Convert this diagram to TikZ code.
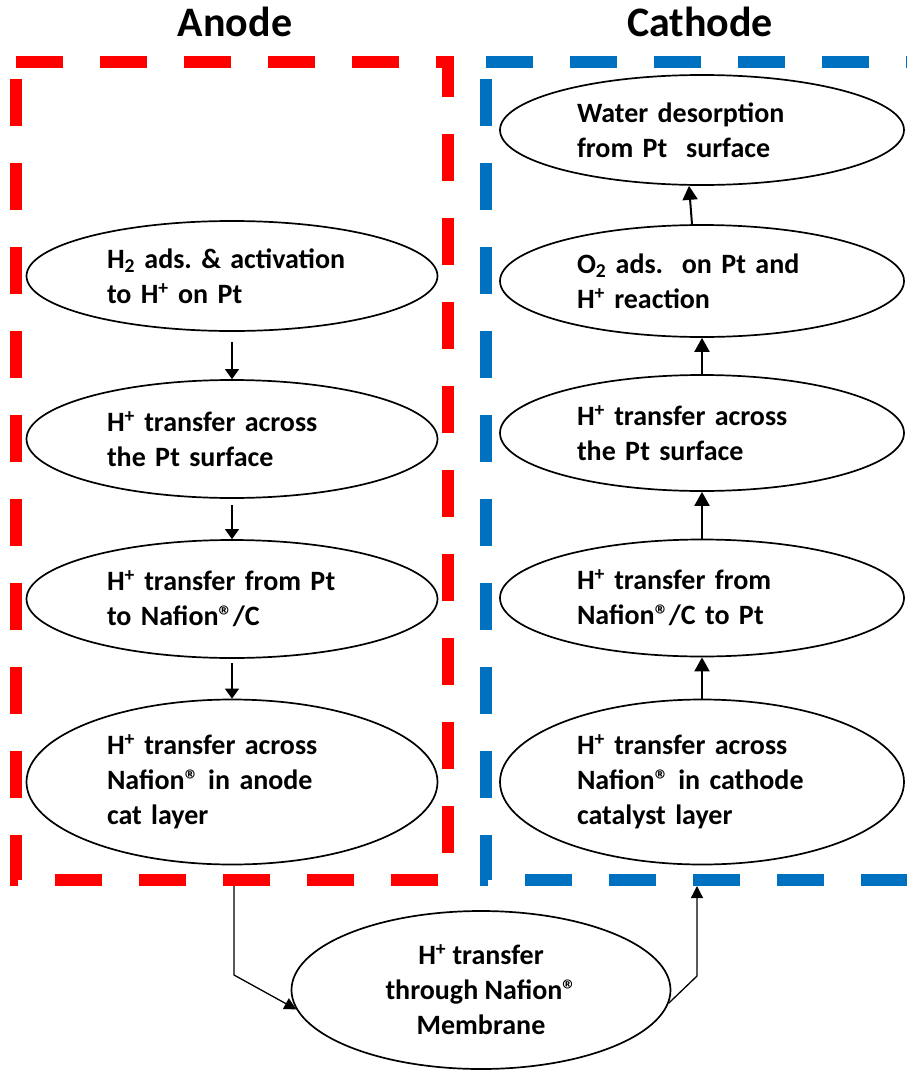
\documentclass[tikz,border=0pt]{standalone}
\usepackage{fontspec}
\setmainfont{Carlito}
\usetikzlibrary{shapes.geometric,arrows.meta}
\definecolor{anodered}{RGB}{255,0,0}
\definecolor{cathodeblue}{RGB}{0,112,192}
\frenchspacing

\begin{document}
\begin{tikzpicture}[x=1pt,y=-1pt,
  stepnode/.style={ellipse, draw, line width=1.7pt, inner sep=0pt, text width=250pt, align=left, font=\fontsize{28}{35}\selectfont\bfseries},
  memnode/.style={ellipse, draw, line width=1.7pt, inner sep=0pt, align=center, font=\fontsize{28}{35}\selectfont\bfseries},
  titletext/.style={font=\fontsize{42}{50}\selectfont\bfseries},
  boxframe/.style={line width=12pt, dash pattern=on 47pt off 37pt},
  thinarrow/.style={line width=1.3pt, -{Triangle[length=10pt,width=14pt]}},
  thickarrow/.style={line width=2pt, -{Triangle[length=14pt,width=15pt]}},
  memarrow/.style={line width=1.3pt, -{Triangle[length=12pt,width=12pt]}}]
\useasboundingbox (0,0) rectangle (907,1071);
\clip (0,0) rectangle (907,1071);

% dashed frames
\draw[boxframe, anodered] (16,62) -- (448,62) -- (448,880) -- (16,880) -- cycle;
\draw[boxframe, cathodeblue] (486,62) -- (918,62) -- (918,880) -- (486,880) -- cycle;

\node[titletext] (antitle) at (235,22) {Anode};
\node[titletext] (catitle) at (700,22) {Cathode};

% anode side
\node[stepnode, minimum width=411pt, minimum height=110pt] (an1) at (232,276) {H\textsubscript{2} ads. \& activation\\to H\textsuperscript{+} on Pt};
\node[stepnode, minimum width=411pt, minimum height=118pt] (an2) at (232,439) {H\textsuperscript{+} transfer across\\the Pt surface};
\node[stepnode, minimum width=411pt, minimum height=118pt] (an3) at (232,599) {H\textsuperscript{+} transfer from Pt\\to Nafion®/C};
\node[stepnode, minimum width=411pt, minimum height=165pt] (an4) at (232,782) {H\textsuperscript{+} transfer across\\Nafion® in anode\\cat layer};
\draw[thinarrow, shorten <=10pt](an1) -- (an2);
\draw[thinarrow, shorten <=6pt](an2) -- (an3);
\draw[thinarrow, shorten <=4pt](an3) -- (an4);

% cathode side
\node[stepnode, minimum width=404pt, minimum height=110pt] (ca1) at (702,130) {Water desorption\\from Pt \ surface};
\node[stepnode, minimum width=404pt, minimum height=112pt] (ca2) at (702,281) {O\textsubscript{2} ads. \ on Pt and\\H\textsuperscript{+} reaction};
\node[stepnode, minimum width=404pt, minimum height=116pt] (ca3) at (702,433) {H\textsuperscript{+} transfer across\\the Pt surface};
\node[stepnode, minimum width=404pt, minimum height=117pt] (ca4) at (702,598) {H\textsuperscript{+} transfer from\\Nafion®/C to Pt};
\node[stepnode, minimum width=404pt, minimum height=165pt] (ca5) at (702,782) {H\textsuperscript{+} transfer across\\Nafion® in cathode\\catalyst layer};
\draw[thickarrow](ca5) -- (ca4);
\draw[thickarrow](ca4) -- (ca3);
\draw[thickarrow](ca3) -- (ca2);
\draw[thickarrow]([xshift=-10pt]ca2.north) -- ([xshift=-13pt]ca1.south);

% membrane
\node[memnode, minimum width=379pt, minimum height=158pt] (mem) at (481,990) {H\textsuperscript{+} transfer\\through Nafion®\\Membrane};
\coordinate (anodebot) at (234,886);
\coordinate (anbend) at (234,975);
\coordinate (cathodebot) at (697,886);
\coordinate (cabend) at (697,976);
\draw[memarrow](anodebot) -- (anbend) -- (mem.186);
\draw[memarrow](mem.356) -- (cabend) -- (cathodebot);

\end{tikzpicture}
\end{document}
